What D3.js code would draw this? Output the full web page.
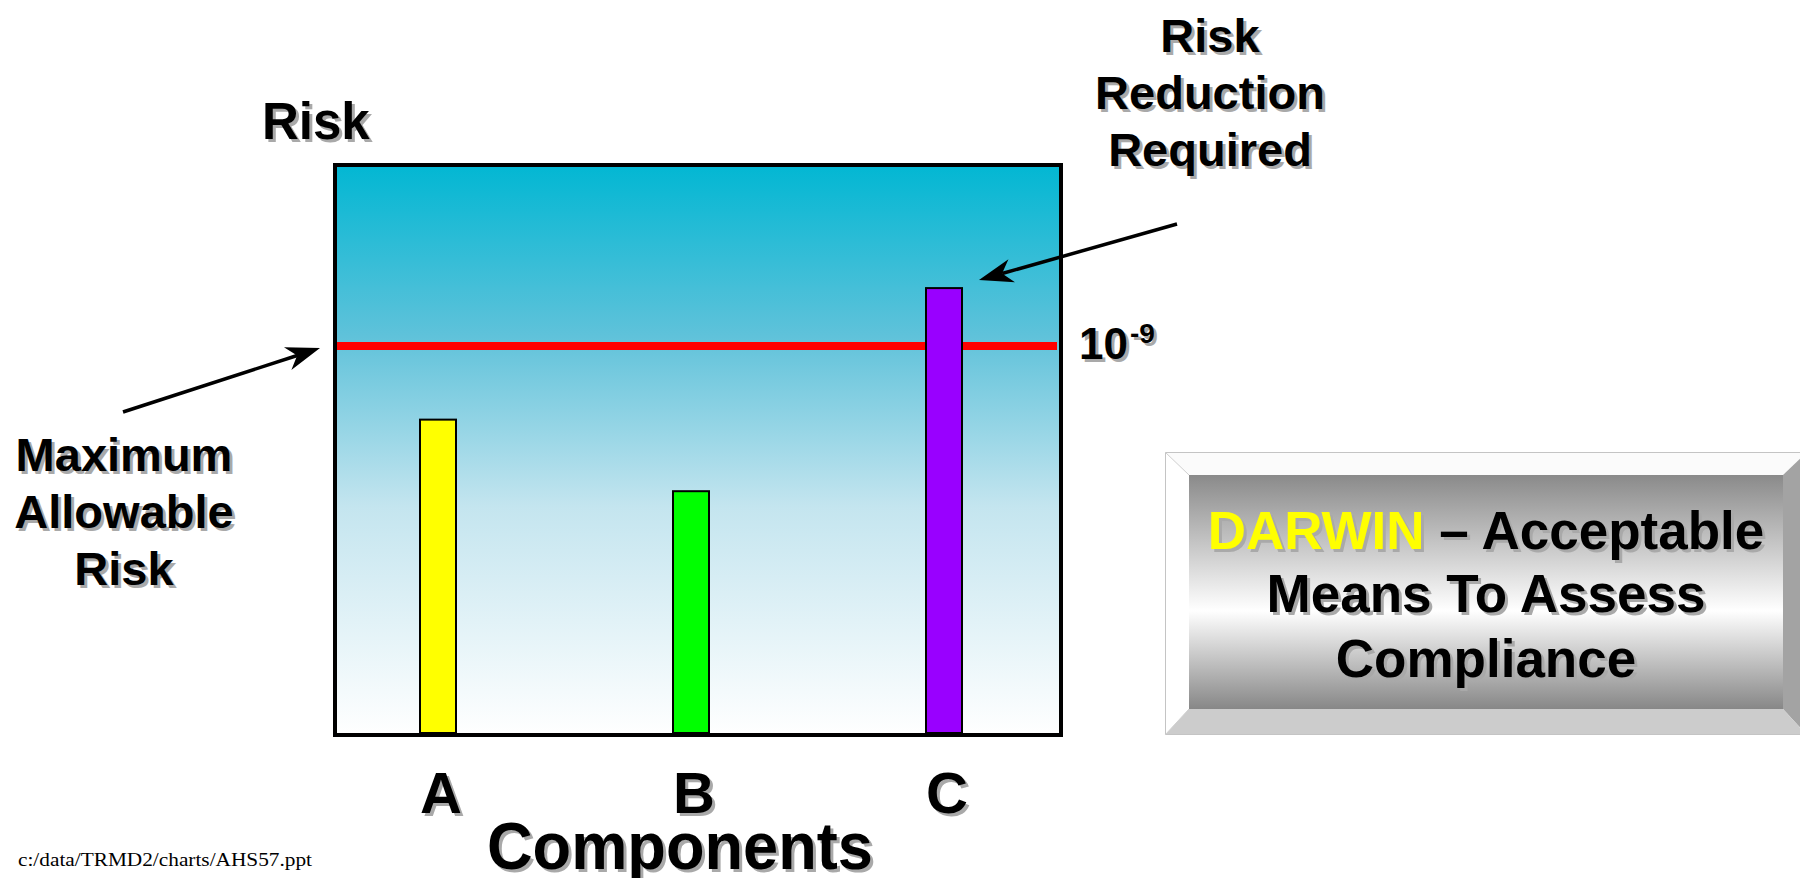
<!DOCTYPE html>
<html>
<head>
<meta charset="utf-8">
<script src="https://cdn.jsdelivr.net/npm/d3@7"></script>
<style>
  html, body { margin: 0; padding: 0; background: #ffffff; overflow: hidden; }
  svg { display: block; }
</style>
</head>
<body>
<svg id="chart" width="1800" height="878"></svg>
<script>
// Component risk levels, expressed relative to the 10^-9 allowable limit
const categories = ["A", "B", "C"];
const riskValues = [0.81, 0.625, 1.15];
const barColors = ["#ffff00", "#00ff00", "#9900ff"];
const maxAllowableRisk = 1.0;
const riskAxisMax = 1.463;
const limitBase = "10";
const limitExponent = "-9";
const yAxisTitle = "Risk";
const xAxisTitle = "Components";
const leftNote = ["Maximum", "Allowable", "Risk"];
const rightNote = ["Risk", "Reduction", "Required"];
const boxLines = [["DARWIN", " – Acceptable"], ["Means To Assess"], ["Compliance"]];
const footer = "c:/data/TRMD2/charts/AHS57.ppt";

const svg = d3.select("#chart");
const FONT = "'Liberation Sans', Arial, Helvetica, sans-serif";

const plot = { left: 335, right: 1061, top: 165, bottom: 735 };

const defs = svg.append("defs");
const bg = defs.append("linearGradient").attr("id", "plotBg")
  .attr("x1", 0).attr("y1", 0).attr("x2", 0).attr("y2", 1);
bg.append("stop").attr("offset", "0%").attr("stop-color", "#02b7d3");
bg.append("stop").attr("offset", "30%").attr("stop-color", "#5fc2da");
bg.append("stop").attr("offset", "60%").attr("stop-color", "#c4e5ef");
bg.append("stop").attr("offset", "100%").attr("stop-color", "#ffffff");

const face = defs.append("linearGradient").attr("id", "boxFace")
  .attr("x1", 0).attr("y1", 0).attr("x2", 0).attr("y2", 1);
face.append("stop").attr("offset", "0%").attr("stop-color", "#8a8a8a");
face.append("stop").attr("offset", "58%").attr("stop-color", "#ffffff");
face.append("stop").attr("offset", "100%").attr("stop-color", "#878787");

// Scales
const x = d3.scalePoint().domain(categories).range([plot.left + 103, plot.right - 117]);
const y = d3.scaleLinear().domain([0, riskAxisMax]).range([plot.bottom - 2, plot.top + 2]);
const barWidth = 36;

// Text with a soft drop shadow
function shadowText(g, str, attrs, parts) {
  const grp = g.append("g");
  [["#a9a9a9", 3, 3], [null, 0, 0]].forEach(([col, dx, dy]) => {
    const t = grp.append("text")
      .attr("x", attrs.x + dx).attr("y", attrs.y + dy)
      .attr("font-family", FONT).attr("font-weight", "bold")
      .attr("font-size", attrs.size)
      .attr("text-anchor", attrs.anchor || "middle");
    if (attrs.length) t.attr("textLength", attrs.length).attr("lengthAdjust", "spacingAndGlyphs");
    if (parts) {
      parts.forEach(p => {
        t.append("tspan").text(p.text).attr("fill", col || p.fill || "#000");
      });
    } else {
      t.text(str).attr("fill", col || attrs.fill || "#000");
    }
  });
  return grp;
}

// Plot background and frame
svg.append("rect")
  .attr("x", plot.left).attr("y", plot.top)
  .attr("width", plot.right - plot.left).attr("height", plot.bottom - plot.top)
  .attr("fill", "url(#plotBg)");

// Maximum allowable risk line
svg.append("line")
  .attr("x1", plot.left).attr("x2", plot.right - 4)
  .attr("y1", y(maxAllowableRisk)).attr("y2", y(maxAllowableRisk))
  .attr("stroke", "#ff0000").attr("stroke-width", 8);

// Bars
svg.append("g").selectAll("rect")
  .data(categories.map((c, i) => ({ c, v: riskValues[i], col: barColors[i] })))
  .join("rect")
  .attr("x", d => x(d.c) - barWidth / 2)
  .attr("y", d => y(d.v))
  .attr("width", barWidth)
  .attr("height", d => y(0) - y(d.v))
  .attr("fill", d => d.col)
  .attr("stroke", "#000").attr("stroke-width", 2);

svg.append("rect")
  .attr("x", plot.left).attr("y", plot.top)
  .attr("width", plot.right - plot.left).attr("height", plot.bottom - plot.top)
  .attr("fill", "none").attr("stroke", "#000").attr("stroke-width", 4);

// Category labels
categories.forEach(c => {
  shadowText(svg, c, { x: x(c) + 3, y: 813, size: 58 });
});

// Axis titles
shadowText(svg, yAxisTitle, { x: 262, y: 139, size: 51, anchor: "start" });
shadowText(svg, xAxisTitle, { x: 487, y: 869, size: 66, anchor: "start", length: 386 });

// Limit label 10^-9
const limY = y(maxAllowableRisk);
shadowText(svg, limitBase, { x: 1079, y: limY + 13, size: 44, anchor: "start" });
shadowText(svg, limitExponent, { x: 1130, y: limY - 3, size: 28, anchor: "start" });

// Annotation text blocks
leftNote.forEach((s, i) => shadowText(svg, s, { x: 124, y: 471 + i * 57, size: 47 }));
rightNote.forEach((s, i) => shadowText(svg, s, { x: 1210, y: 52 + i * 57, size: 47 }));

// Arrows with notched heads
function arrow(x1, y1, x2, y2) {
  const ang = Math.atan2(y2 - y1, x2 - x1);
  const L = 34, W = 12, N = 24;
  const ca = Math.cos(ang), sa = Math.sin(ang);
  const pt = (along, perp) => [x2 - along * ca - perp * sa, y2 - along * sa + perp * ca];
  const g = svg.append("g");
  const end = pt(N, 0);
  g.append("line").attr("x1", x1).attr("y1", y1).attr("x2", end[0]).attr("y2", end[1])
    .attr("stroke", "#000").attr("stroke-width", 3.5);
  g.append("path")
    .attr("d", d3.line()([[x2, y2], pt(L, W), pt(N, 0), pt(L, -W)]) + "Z")
    .attr("fill", "#000");
}
arrow(123, 412, plot.left - 15, limY + 2);
arrow(1177, 224, x("C") + barWidth / 2 + 17, y(riskValues[2]) - 8);

// Beveled DARWIN panel
const bo = { x0: 1165, y0: 452, x1: 1807, y1: 735 };
const bi = { x0: 1189, y0: 475, x1: 1783, y1: 709 };
const poly = pts => svg.append("path").attr("d", d3.line()(pts) + "Z");
poly([[bo.x0, bo.y0], [bo.x1, bo.y0], [bi.x1, bi.y0], [bi.x0, bi.y0]]).attr("fill", "#fbfbfb");
poly([[bo.x0, bo.y0], [bi.x0, bi.y0], [bi.x0, bi.y1], [bo.x0, bo.y1]]).attr("fill", "#ffffff");
poly([[bo.x1, bo.y0], [bo.x1, bo.y1], [bi.x1, bi.y1], [bi.x1, bi.y0]]).attr("fill", "#a3a3a3");
poly([[bo.x0, bo.y1], [bi.x0, bi.y1], [bi.x1, bi.y1], [bo.x1, bo.y1]]).attr("fill", "#cccccc");
svg.append("rect").attr("x", bi.x0).attr("y", bi.y0)
  .attr("width", bi.x1 - bi.x0).attr("height", bi.y1 - bi.y0)
  .attr("fill", "url(#boxFace)");
svg.append("rect").attr("x", bo.x0 + 0.5).attr("y", bo.y0 + 0.5)
  .attr("width", bo.x1 - bo.x0).attr("height", bo.y1 - bo.y0 - 1)
  .attr("fill", "none").attr("stroke", "#c4c4c4").attr("stroke-width", 1);
svg.append("line").attr("x1", bo.x0).attr("y1", bo.y0).attr("x2", bi.x0).attr("y2", bi.y0)
  .attr("stroke", "#d0d0d0").attr("stroke-width", 1);
svg.append("line").attr("x1", bo.x0).attr("y1", bo.y1).attr("x2", bi.x0).attr("y2", bi.y1)
  .attr("stroke", "#d0d0d0").attr("stroke-width", 1);

const boxCx = (bi.x0 + bi.x1) / 2;
shadowText(svg, null, { x: boxCx, y: 549, size: 53 },
  [{ text: boxLines[0][0], fill: "#ffff00" }, { text: boxLines[0][1], fill: "#000" }]);
shadowText(svg, boxLines[1][0], { x: boxCx, y: 612, size: 53 });
shadowText(svg, boxLines[2][0], { x: boxCx, y: 677, size: 53 });

// File path footer
svg.append("text")
  .attr("x", 18).attr("y", 866)
  .attr("font-family", "'Liberation Serif', 'Times New Roman', serif")
  .attr("font-size", 19).attr("fill", "#000")
  .attr("textLength", 294).attr("lengthAdjust", "spacingAndGlyphs")
  .text(footer);
</script>
</body>
</html>
